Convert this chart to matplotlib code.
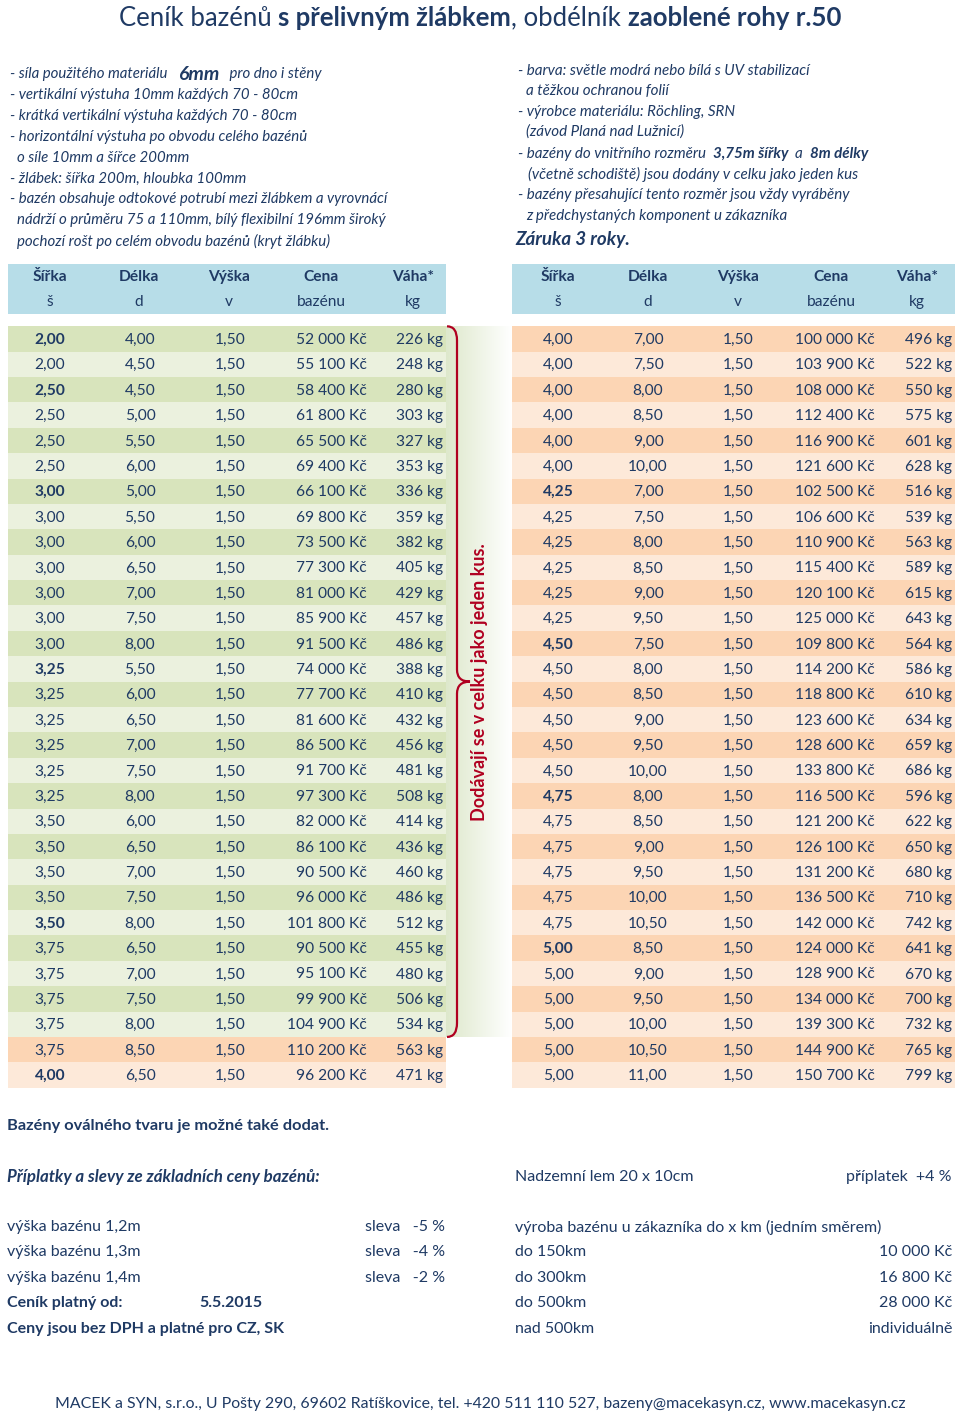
import numpy as np
import matplotlib.pyplot as plt
from matplotlib.path import Path
from matplotlib.patches import PathPatch

plt.rcParams['font.family'] = ['Lato', 'DejaVu Sans']

NAVY = '#1f3a64'
RED = '#b00020'
HEAD_BG = '#b7dde8'
GREEN = ['#d8e4bc', '#ebf1de']
ORANGE = ['#fcd5b4', '#fde9d9']

# --- table data -----------------------------------------------------------
left_sirka = [2.00, 2.00, 2.50, 2.50, 2.50, 2.50, 3.00, 3.00, 3.00, 3.00,
              3.00, 3.00, 3.00, 3.25, 3.25, 3.25, 3.25, 3.25, 3.25, 3.50,
              3.50, 3.50, 3.50, 3.50, 3.75, 3.75, 3.75, 3.75, 3.75, 4.00]
left_delka = [4.00, 4.50, 4.50, 5.00, 5.50, 6.00, 5.00, 5.50, 6.00, 6.50,
              7.00, 7.50, 8.00, 5.50, 6.00, 6.50, 7.00, 7.50, 8.00, 6.00,
              6.50, 7.00, 7.50, 8.00, 6.50, 7.00, 7.50, 8.00, 8.50, 6.50]
left_cena = [52000, 55100, 58400, 61800, 65500, 69400, 66100, 69800, 73500,
             77300, 81000, 85900, 91500, 74000, 77700, 81600, 86500, 91700,
             97300, 82000, 86100, 90500, 96000, 101800, 90500, 95100, 99900,
             104900, 110200, 96200]
left_vaha = [226, 248, 280, 303, 327, 353, 336, 359, 382, 405, 429, 457, 486,
             388, 410, 432, 456, 481, 508, 414, 436, 460, 486, 512, 455, 480,
             506, 534, 563, 471]
left_bold = [0, 2, 6, 13, 23, 29]
left_green_rows = 28

right_sirka = [4.00] * 6 + [4.25] * 6 + [4.50] * 6 + [4.75] * 6 + [5.00] * 6
right_delka = [7.00, 7.50, 8.00, 8.50, 9.00, 10.00,
               7.00, 7.50, 8.00, 8.50, 9.00, 9.50,
               7.50, 8.00, 8.50, 9.00, 9.50, 10.00,
               8.00, 8.50, 9.00, 9.50, 10.00, 10.50,
               8.50, 9.00, 9.50, 10.00, 10.50, 11.00]
right_cena = [100000, 103900, 108000, 112400, 116900, 121600,
              102500, 106600, 110900, 115400, 120100, 125000,
              109800, 114200, 118800, 123600, 128600, 133800,
              116500, 121200, 126100, 131200, 136500, 142000,
              124000, 128900, 134000, 139300, 144900, 150700]
right_vaha = [496, 522, 550, 575, 601, 628, 516, 539, 563, 589, 615, 643,
              564, 586, 610, 634, 659, 686, 596, 622, 650, 680, 710, 742,
              641, 670, 700, 732, 765, 799]
right_bold = [6, 12, 18, 24]
vyska = 1.50

head_top = ['Šířka', 'Délka', 'Výška', 'Cena', 'Váha*']
head_bot = ['š', 'd', 'v', 'bazénu', 'kg']

title_parts = [('Ceník bazénů ', 'normal'), ('s přelivným žlábkem', 'bold'),
               (', obdélník ', 'normal'), ('zaoblené rohy r.50', 'bold')]

NS = 10.8   # left notes size
RS = 10.9   # right notes size
left_notes = [
    (10, [('- síla použitého materiálu   ', 'normal', NS),
          ('6mm', 'bold', 14), ('   pro dno i stěny', 'normal', NS)]),
    (10, [('- vertikální výstuha 10mm každých 70 - 80cm', 'normal', NS)]),
    (10, [('- krátká vertikální výstuha každých 70 - 80cm', 'normal', NS)]),
    (10, [('- horizontální výstuha po obvodu celého bazénů', 'normal', NS)]),
    (17, [('o síle 10mm a šířce 200mm', 'normal', NS)]),
    (10, [('- žlábek: šířka 200m, hloubka 100mm', 'normal', NS)]),
    (10, [('- bazén obsahuje odtokové potrubí mezi žlábkem a vyrovnácí', 'normal', NS)]),
    (17, [('nádrží o průměru 75 a 110mm, bílý flexibilní 196mm široký', 'normal', NS)]),
    (17, [('pochozí rošt po celém obvodu bazénů (kryt žlábku)', 'normal', NS)]),
]
left_notes_y = [74, 95, 116, 137, 158, 179, 199, 220, 241]

right_notes = [
    (518, [('- barva: světle modrá nebo bílá s UV stabilizací', 'normal', RS)]),
    (526, [('a těžkou ochranou folií', 'normal', RS)]),
    (518, [('- výrobce materiálu: Röchling, SRN', 'normal', RS)]),
    (526, [('(závod Planá nad Lužnicí)', 'normal', RS)]),
    (518, [('- bazény do vnitřního rozměru  ', 'normal', RS), ('3,75m šířky', 'bold', RS),
           ('  a  ', 'normal', RS), ('8m délky', 'bold', RS)]),
    (528, [('(včetně schodiště) jsou dodány v celku jako jeden kus', 'normal', RS)]),
    (518, [('- bazény přesahující tento rozměr jsou vždy vyráběny', 'normal', RS)]),
    (526, [('z předchystaných komponent u zákazníka', 'normal', RS)]),
    (515, [('Záruka 3 roky.', 'bold', 13.5)]),
]
right_notes_y = [71, 91, 112, 132, 154, 174, 195, 216, 239]

extra_left = ['výška bazénu 1,2m', 'výška bazénu 1,3m', 'výška bazénu 1,4m']
extra_sleva = ['sleva   -5 %', 'sleva   -4 %', 'sleva   -2 %']
transport_lbl = ['výroba bazénu u zákazníka do x km (jedním směrem)',
                 'do 150km', 'do 300km', 'do 500km', 'nad 500km']
transport_val = ['', '10 000 Kč', '16 800 Kč', '28 000 Kč', 'individuálně']
bottom_y = [1227, 1252, 1278, 1303, 1329]

footer = ('MACEK a SYN, s.r.o., U Pošty 290, 69602 Ratíškovice, tel. +420 511 110 527, '
          'bazeny@macekasyn.cz, www.macekasyn.cz')

# --- figure ---------------------------------------------------------------
fig = plt.figure(figsize=(9.6, 14.16), dpi=100)
ax = fig.add_axes([0, 0, 1, 1])
renderer = fig.canvas.get_renderer()


def fmt_num(v):
    return f'{v:.2f}'.replace('.', ',')


def fmt_price(v):
    return f'{v:,}'.replace(',', ' ') + ' Kč'


def text_width(t):
    return t.get_window_extent(renderer=renderer).width


def seq_text(x, y, parts, style='italic'):
    for txt, weight, size in parts:
        t = ax.text(x, y, txt, fontsize=size, fontweight=weight, fontstyle=style,
                    color=NAVY, va='center', ha='left')
        x += text_width(t)


# title
tmp = [ax.text(0, -100, p, fontsize=18.5, fontweight=w) for p, w in title_parts]
widths = [text_width(t) for t in tmp]
for t in tmp:
    t.remove()
x = 480 - sum(widths) / 2
for (p, w), wd in zip(title_parts, widths):
    ax.text(x, 18, p, fontsize=18.5, fontweight=w, color=NAVY, va='center')
    x += wd

for (x0, parts), y in zip(left_notes, left_notes_y):
    seq_text(x0, y, parts)
for (x0, parts), y in zip(right_notes, right_notes_y):
    seq_text(x0, y, parts)

# tables
step = 25.38
y0 = 339
TS = 11.2


def draw_table(x_left, x_right, cols_head, cols_data, sirka, delka, cena, vaha,
               bold_rows, green_rows):
    ax.barh([276 + 12.5], x_right - x_left, left=x_left, height=50,
            color=HEAD_BG, zorder=1)
    for cx, a, b in zip(cols_head, head_top, head_bot):
        ax.text(cx, 277, a, fontsize=TS, fontweight='bold', color=NAVY,
                ha='center', va='center', zorder=3)
        ax.text(cx, 302, b, fontsize=TS, color=NAVY, ha='center', va='center', zorder=3)
    n = len(sirka)
    ys = y0 + np.arange(n) * step
    colors = [(GREEN if i < green_rows else ORANGE)[i % 2] for i in range(n)]
    ax.barh(ys, x_right - x_left, left=x_left, height=step, color=colors, zorder=1)
    c1, c2, c3, c4, c5 = cols_data
    for i, y in enumerate(ys):
        ty = y + 1
        ax.text(c1, ty, fmt_num(sirka[i]), fontsize=TS, color=NAVY, ha='center', va='center',
                fontweight='bold' if i in bold_rows else 'normal', zorder=3)
        ax.text(c2, ty, fmt_num(delka[i]), fontsize=TS, color=NAVY, ha='center', va='center', zorder=3)
        ax.text(c3, ty, fmt_num(vyska), fontsize=TS, color=NAVY, ha='center', va='center', zorder=3)
        ax.text(c4, ty, fmt_price(cena[i]), fontsize=TS, color=NAVY, ha='right', va='center', zorder=3)
        ax.text(c5, ty, f'{vaha[i]} kg', fontsize=TS, color=NAVY, ha='right', va='center', zorder=3)


draw_table(8, 446, [50, 139, 229, 321, 413], [50, 140, 230, 367, 443],
           left_sirka, left_delka, left_cena, left_vaha, left_bold, left_green_rows)
draw_table(512, 955, [558, 648, 738, 831, 917], [558, 648, 738, 875, 952],
           right_sirka, right_delka, right_cena, right_vaha, right_bold, 0)

# gradient panel next to the green block + brace
top = y0 - step / 2
bot = y0 + (left_green_rows - 0.5) * step
grad = np.linspace(0, 1, 64)
g0 = np.array([0.87, 0.91, 0.80])
img = (g0[None, :] * (1 - grad[:, None]) + grad[:, None])[None, :, :]
ax.imshow(img, extent=[446, 512, bot, top], aspect='auto', zorder=0.5)

mid = (top + bot) / 2
verts = [(447, top), (457, top), (457, top + 14), (457, mid - 12), (457, mid), (470, mid),
         (457, mid), (457, mid + 12), (457, bot - 14), (457, bot), (447, bot)]
codes = [Path.MOVETO, Path.CURVE3, Path.CURVE3, Path.LINETO, Path.CURVE3, Path.CURVE3,
         Path.CURVE3, Path.CURVE3, Path.LINETO, Path.CURVE3, Path.CURVE3]
ax.add_patch(PathPatch(Path(verts, codes), fill=False, edgecolor=RED, lw=1.6, zorder=4))
ax.text(480, mid, 'Dodávají se v celku jako jeden kus.', rotation=90, fontsize=13,
        fontweight='bold', color=RED, ha='center', va='center', zorder=4)

# bottom block
BS = 11.5
ax.text(7, 1126, 'Bazény oválného tvaru je možné také dodat.', fontsize=11.8,
        fontweight='bold', color=NAVY, va='center')
ax.text(7, 1177, 'Příplatky a slevy ze základních ceny bazénů:', fontsize=12.2,
        fontweight='bold', fontstyle='italic', color=NAVY, va='center')
ax.text(515, 1177, 'Nadzemní lem 20 x 10cm', fontsize=BS, color=NAVY, va='center')
ax.text(952, 1177, 'příplatek  +4 %', fontsize=BS, color=NAVY, va='center', ha='right')
for y, a, b in zip(bottom_y, extra_left, extra_sleva):
    ax.text(7, y, a, fontsize=BS, color=NAVY, va='center')
    ax.text(365, y, b, fontsize=BS, color=NAVY, va='center')
ax.text(7, bottom_y[3], 'Ceník platný od:', fontsize=BS, fontweight='bold', color=NAVY, va='center')
ax.text(199, bottom_y[3], '5.5.2015', fontsize=BS, fontweight='bold', color=NAVY, va='center')
ax.text(7, bottom_y[4], 'Ceny jsou bez DPH a platné pro CZ, SK', fontsize=BS,
        fontweight='bold', color=NAVY, va='center')
for y, a, b in zip(bottom_y, transport_lbl, transport_val):
    ax.text(515, y, a, fontsize=BS, color=NAVY, va='center')
    ax.text(952, y, b, fontsize=BS, color=NAVY, va='center', ha='right')

ax.text(480, 1404, footer, fontsize=11.4, color=NAVY, va='center', ha='center')

ax.set_xlim(0, 960)
ax.set_ylim(1416, 0)
ax.axis('off')
fig.savefig('out.png', dpi=100, facecolor='white')
